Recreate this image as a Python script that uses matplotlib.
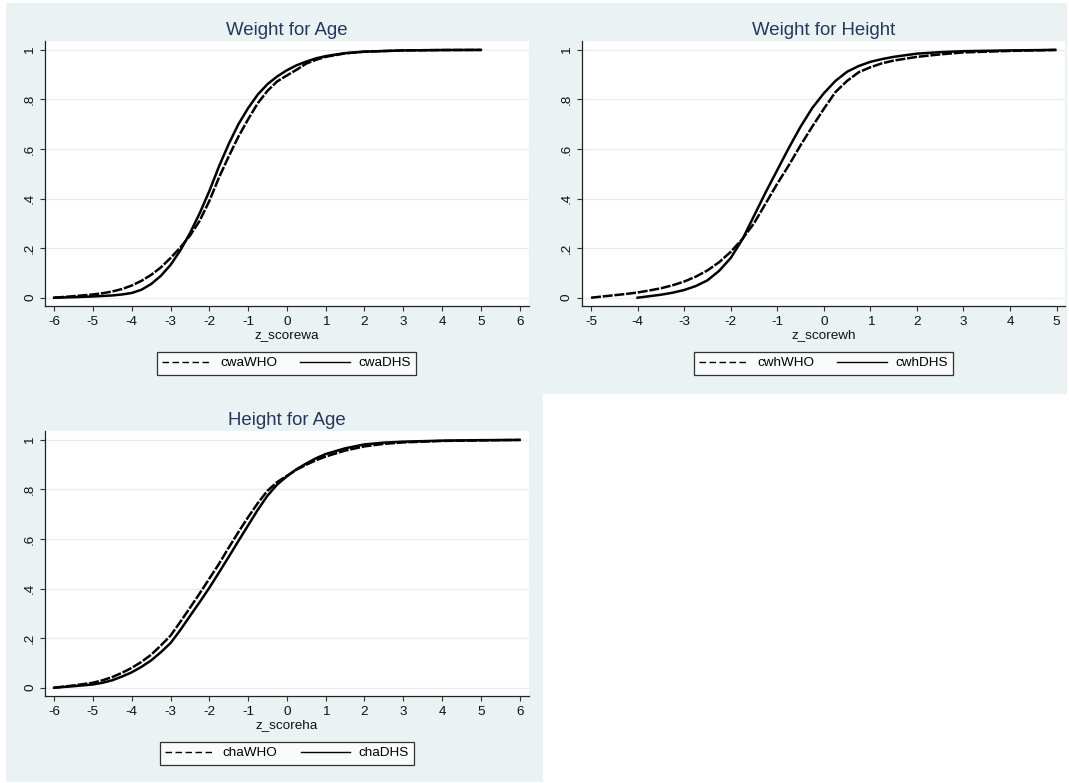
import matplotlib
matplotlib.use("Agg")
import matplotlib.pyplot as plt
from matplotlib.lines import Line2D
from matplotlib.patches import Rectangle

plt.rcParams["font.family"] = ["Liberation Sans", "DejaVu Sans"]

# Weight for Age
wfa_who_x = [-6.0, -5.5, -5.0, -4.75, -4.5, -4.25, -4.0, -3.75, -3.5, -3.25, -3.0, -2.75, -2.5, -2.25,
             -2.0, -1.75, -1.5, -1.25, -1.0, -0.75, -0.5, -0.25, 0.0, 0.25, 0.5, 0.75, 1.0, 1.5, 2.0,
             3.0, 4.0, 5.0]
wfa_who_y = [0.0, 0.006, 0.013, 0.018, 0.025, 0.035, 0.049, 0.068, 0.092, 0.122, 0.16, 0.202, 0.25, 0.31,
             0.39, 0.485, 0.57, 0.65, 0.72, 0.785, 0.835, 0.873, 0.897, 0.92, 0.945, 0.96, 0.972, 0.986, 0.993,
             0.998, 0.9995, 1.0]
wfa_dhs_x = [-6.0, -5.5, -5.0, -4.5, -4.25, -4.0, -3.75, -3.5, -3.25, -3.0, -2.75, -2.5, -2.25, -2.0,
             -1.75, -1.5, -1.25, -1.0, -0.75, -0.5, -0.25, 0.0, 0.25, 0.5, 0.75, 1.0, 1.5, 2.0, 3.0, 4.0, 5.0]
wfa_dhs_y = [0.0, 0.002, 0.005, 0.009, 0.013, 0.019, 0.032, 0.055, 0.088, 0.132, 0.19, 0.26, 0.34, 0.43,
             0.53, 0.62, 0.70, 0.765, 0.82, 0.862, 0.893, 0.918, 0.938, 0.953, 0.966, 0.975, 0.987, 0.993,
             0.998, 0.9995, 1.0]

# Weight for Height
wfh_who_x = [-5.0, -4.75, -4.5, -4.25, -4.0, -3.75, -3.5, -3.25, -3.0, -2.75, -2.5, -2.25, -2.0, -1.75,
             -1.5, -1.25, -1.0, -0.75, -0.5, -0.25, 0.0, 0.25, 0.5, 0.75, 1.0, 1.25, 1.5, 2.0, 2.5, 3.0,
             4.0, 5.0]
wfh_who_y = [0.0, 0.005, 0.010, 0.015, 0.021, 0.029, 0.038, 0.05, 0.065, 0.085, 0.11, 0.143, 0.185, 0.237,
             0.30, 0.38, 0.46, 0.535, 0.615, 0.69, 0.762, 0.83, 0.875, 0.91, 0.93, 0.946, 0.957, 0.972, 0.982,
             0.99, 0.996, 1.0]
wfh_dhs_x = [-4.0, -3.75, -3.5, -3.25, -3.0, -2.75, -2.5, -2.25, -2.0, -1.75, -1.5, -1.25, -1.0, -0.75,
             -0.5, -0.25, 0.0, 0.25, 0.5, 0.75, 1.0, 1.25, 1.5, 2.0, 2.5, 3.0, 4.0, 4.95]
wfh_dhs_y = [0.0, 0.006, 0.012, 0.02, 0.031, 0.047, 0.07, 0.108, 0.16, 0.235, 0.33, 0.425, 0.515, 0.605,
             0.69, 0.765, 0.825, 0.875, 0.912, 0.935, 0.952, 0.963, 0.972, 0.985, 0.991, 0.995, 0.998, 1.0]

# Height for Age
hfa_who_x = [-6.0, -5.5, -5.0, -4.75, -4.5, -4.25, -4.0, -3.75, -3.5, -3.25, -3.0, -2.75, -2.5, -2.25,
             -2.0, -1.75, -1.5, -1.25, -1.0, -0.75, -0.5, -0.25, 0.0, 0.25, 0.5, 0.75, 1.0, 1.5, 2.0,
             2.5, 3.0, 4.0, 5.0, 6.0]
hfa_who_y = [0.0, 0.009, 0.02, 0.03, 0.043, 0.06, 0.08, 0.104, 0.133, 0.17, 0.21, 0.265, 0.322, 0.38,
             0.44, 0.50, 0.565, 0.628, 0.688, 0.745, 0.795, 0.83, 0.855, 0.88, 0.90, 0.918, 0.933, 0.957,
             0.974, 0.984, 0.99, 0.996, 0.998, 1.0]
hfa_dhs_x = [-6.0, -5.5, -5.0, -4.75, -4.5, -4.25, -4.0, -3.75, -3.5, -3.25, -3.0, -2.75, -2.5, -2.25,
             -2.0, -1.75, -1.5, -1.25, -1.0, -0.75, -0.5, -0.25, 0.0, 0.25, 0.5, 0.75, 1.0, 1.5, 2.0,
             2.5, 3.0, 4.0, 5.0, 6.0]
hfa_dhs_y = [0.0, 0.006, 0.013, 0.02, 0.03, 0.045, 0.062, 0.084, 0.11, 0.143, 0.18, 0.232, 0.289, 0.345,
             0.403, 0.465, 0.528, 0.592, 0.655, 0.718, 0.775, 0.82, 0.853, 0.882, 0.905, 0.926, 0.943, 0.966,
             0.982, 0.989, 0.993, 0.997, 0.999, 1.0]

y_ticks = [0, 0.2, 0.4, 0.6, 0.8, 1.0]
y_tick_labels = ["0", ".2", ".4", ".6", ".8", "1"]

W, H = 1069, 783
BG = "#EAF2F3"
TITLE_C = "#26375C"

fig = plt.figure(figsize=(W / 100, H / 100), dpi=100, facecolor="white")


def px_rect(x0, y0, x1, y1):
    return [x0 / W, 1 - y1 / H, (x1 - x0) / W, (y1 - y0) / H]


# graph region backgrounds (behind the axes)
for (x0, y0, x1, y1) in [(6, 3, 1067, 394), (6, 394, 543, 782)]:
    fig.patches.append(Rectangle((x0 / W, 1 - y1 / H), (x1 - x0) / W, (y1 - y0) / H,
                                 transform=fig.transFigure, facecolor=BG, edgecolor="none", zorder=-10))


def panel(rect, xlim, xticks, who, dhs, title, xlabel, names, leg_c):
    ax = fig.add_axes(px_rect(*rect))
    ax.set_zorder(1)
    ax.set_facecolor("white")
    for yt in y_ticks:
        ax.axhline(yt, color="#E4ECEE", lw=0.9, zorder=1)
    ax.plot(who[0], who[1], color="black", lw=1.8, dashes=(4, 0.7), zorder=3)
    ax.plot(dhs[0], dhs[1], color="black", lw=1.8, zorder=3)
    ax.set_xlim(*xlim)
    ax.set_ylim(-0.0335, 1.036)
    ax.set_xticks(xticks)
    ax.set_xticklabels([str(v) for v in xticks])
    ax.set_yticks(y_ticks)
    ax.set_yticklabels(y_tick_labels, rotation=90, va="center")
    ax.tick_params(axis="both", length=3.6, width=0.8, color="#333333", labelsize=9.7,
                   labelcolor="#111111")
    ax.tick_params(axis="x", pad=3.5)
    ax.tick_params(axis="y", pad=2.7)
    for s in ["top", "right"]:
        ax.spines[s].set_visible(False)
    for s in ["left", "bottom"]:
        ax.spines[s].set_color("#222222")
        ax.spines[s].set_linewidth(0.9)
    ax.set_title(title, fontsize=13.4, color=TITLE_C, pad=4.5)
    ax.set_xlabel(xlabel, fontsize=9.7, color="#111111", labelpad=1)
    handles = [Line2D([], [], color="black", lw=1.0, dashes=(4.7, 2.5)),
               Line2D([], [], color="black", lw=1.0)]
    leg = ax.legend(handles, names, ncol=2, loc="center",
                    bbox_to_anchor=(leg_c[0] / W, 1 - leg_c[1] / H), bbox_transform=fig.transFigure,
                    fontsize=9.7, frameon=True, fancybox=False, edgecolor="black",
                    handlelength=3.7, handletextpad=0.6, columnspacing=1.7, borderpad=0.4)
    leg.get_frame().set_linewidth(0.9)
    return ax


panel((44.8, 41, 528.6, 306), (-6.24, 6.23), list(range(-6, 7)),
      (wfa_who_x, wfa_who_y), (wfa_dhs_x, wfa_dhs_y),
      "Weight for Age", "z_scorewa", ["cwaWHO", "cwaDHS"], (286.5, 363.2))
panel((581.7, 41, 1065, 306), (-5.2, 5.18), list(range(-5, 6)),
      (wfh_who_x, wfh_who_y), (wfh_dhs_x, wfh_dhs_y),
      "Weight for Height", "z_scorewh", ["cwhWHO", "cwhDHS"], (823.5, 363.2))
panel((44.8, 431, 528.6, 696), (-6.24, 6.23), list(range(-6, 7)),
      (hfa_who_x, hfa_who_y), (hfa_dhs_x, hfa_dhs_y),
      "Height for Age", "z_scoreha", ["chaWHO", "chaDHS"], (286.8, 753.2))

fig.savefig("out.png", dpi=100, facecolor="white")
